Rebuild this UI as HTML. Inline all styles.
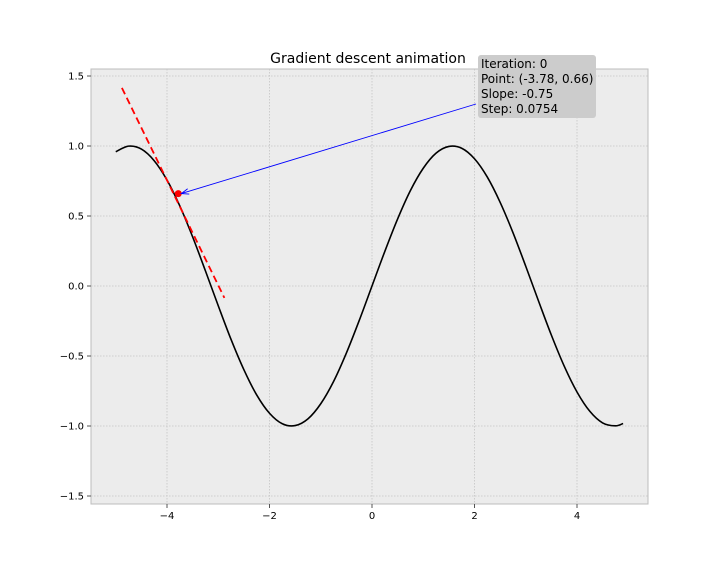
<!DOCTYPE html>
<html><head><meta charset="utf-8"><style>
body{margin:0;background:#fff;}
svg{display:block;font-family:"DejaVu Sans","Liberation Sans",sans-serif;}
</style></head><body>
<svg id="chart" width="720" height="576">
<rect x="91" y="69" width="557" height="435" fill="#ececec" stroke="#bdbdbd"/>
<g id="grid"></g><g id="ticks"></g><g id="series"></g>
<text x="368" y="63" text-anchor="middle" font-size="14" fill="#000">Gradient descent animation</text>
</svg>
<script>
const xs=[-5,-4.75,-4.5,-4.25,-4,-3.75,-3.5,-3.25,-3,-2.75,-2.5,-2.25,-2,-1.75,-1.5,-1.25,-1,-0.75,-0.5,-0.25,0,0.25,0.5,0.75,1,1.25,1.5,1.75,2,2.25,2.5,2.75,3,3.25,3.5,3.75,4,4.25,4.5,4.75,4.9];
const ys=[0.959,0.999,0.978,0.895,0.757,0.572,0.351,0.108,-0.141,-0.382,-0.598,-0.778,-0.909,-0.984,-0.997,-0.949,-0.841,-0.682,-0.479,-0.247,0,0.247,0.479,0.682,0.841,0.949,0.997,0.984,0.909,0.778,0.598,0.382,0.141,-0.108,-0.351,-0.572,-0.757,-0.895,-0.978,-0.999,-0.982];
const xTicks=[-4,-2,0,2,4];
const yTicks=[-1.5,-1,-0.5,0,0.5,1,1.5];
const point=[-3.78,0.66];
const slope=-0.75;
const tangentRange=[-1.1,0.9];
const tangentOffset=-0.07;
const infoLines=["Iteration: 0","Point: (-3.78, 0.66)","Slope: -0.75","Step: 0.0754"];
const NS="http://www.w3.org/2000/svg";
const X=v=>372+v*51.25, Y=v=>286-v*140;
function mk(t,a,p){const e=document.createElementNS(NS,t);for(const k in a)e.setAttribute(k,a[k]);p.appendChild(e);return e;}
const grid=document.getElementById('grid'),ticks=document.getElementById('ticks'),ser=document.getElementById('series');
xTicks.forEach(v=>{
 const g=mk('line',{x1:X(v),x2:X(v),y1:69,y2:504,stroke:'#c4c4c4','stroke-dasharray':'1.5,1.5','stroke-width':0.8},grid);
 
 
 mk('line',{x1:X(v),x2:X(v),y1:504,y2:508,stroke:'#555'},ticks);
 const t=mk('text',{x:X(v),y:519,'text-anchor':'middle','font-size':10},ticks);
 t.textContent=(v<0?'\u2212':'')+Math.abs(v);
 
 
});
yTicks.forEach(v=>{
 const g=mk('line',{x1:91,x2:648,y1:Y(v),y2:Y(v),stroke:'#c4c4c4','stroke-dasharray':'1.5,1.5','stroke-width':0.8},grid);
 
 
 mk('line',{x1:87,x2:91,y1:Y(v),y2:Y(v),stroke:'#555'},ticks);
 const t=mk('text',{x:84,y:Y(v)+3.5,'text-anchor':'end','font-size':10},ticks);
 t.textContent=(v<0?'\u2212':'')+Math.abs(v).toFixed(1);
 
 
});
const P=xs.map((x,i)=>[X(x),Y(ys[i])]);
let d='M'+P[0][0]+','+P[0][1];
for(let i=0;i<P.length-1;i++){
 const p0=P[Math.max(i-1,0)],p1=P[i],p2=P[i+1],p3=P[Math.min(i+2,P.length-1)];
 d+=' C'+(p1[0]+(p2[0]-p0[0])/6)+','+(p1[1]+(p2[1]-p0[1])/6)+' '+(p2[0]-(p3[0]-p1[0])/6)+','+(p2[1]-(p3[1]-p1[1])/6)+' '+p2[0]+','+p2[1];
}
const curve=mk('path',{d:d,fill:'none',stroke:'#000','stroke-width':1.6},ser);


const x1=point[0]+tangentRange[0],x2=point[0]+tangentRange[1];
const tan=mk('line',{x1:X(x1),y1:Y(point[1]+tangentOffset+slope*tangentRange[0]),x2:X(x2),y2:Y(point[1]+tangentOffset+slope*tangentRange[1]),stroke:'#f00','stroke-width':1.8,'stroke-dasharray':'7,4'},ser);


const dot=mk('circle',{cx:X(point[0]),cy:Y(point[1]),r:3.5,fill:'#f00'},ser);


const ax=X(point[0])+3,ay=Y(point[1]);
const arr=mk('line',{x1:476,y1:104,x2:ax,y2:ay,stroke:'#00f','stroke-width':0.9},ser);


const ang=Math.atan2(104-ay,476-ax);
const hp=[[ax,ay],[ax+8*Math.cos(ang+0.35),ay+8*Math.sin(ang+0.35)],[ax+8*Math.cos(ang-0.35),ay+8*Math.sin(ang-0.35)]];
const head=mk('polyline',{points:hp[1].join(',')+' '+hp[0].join(',')+' '+hp[2].join(','),fill:'none',stroke:'#00f','stroke-width':0.9},ser);


const box=mk('rect',{x:478,y:55,width:118,height:63,rx:3,fill:'#cccccc'},ser);


infoLines.forEach((s,i)=>{
 const t=mk('text',{x:481,y:68+i*15,'font-size':12},ser);
 t.textContent=s;
 
 
});
</script>
</body></html>
